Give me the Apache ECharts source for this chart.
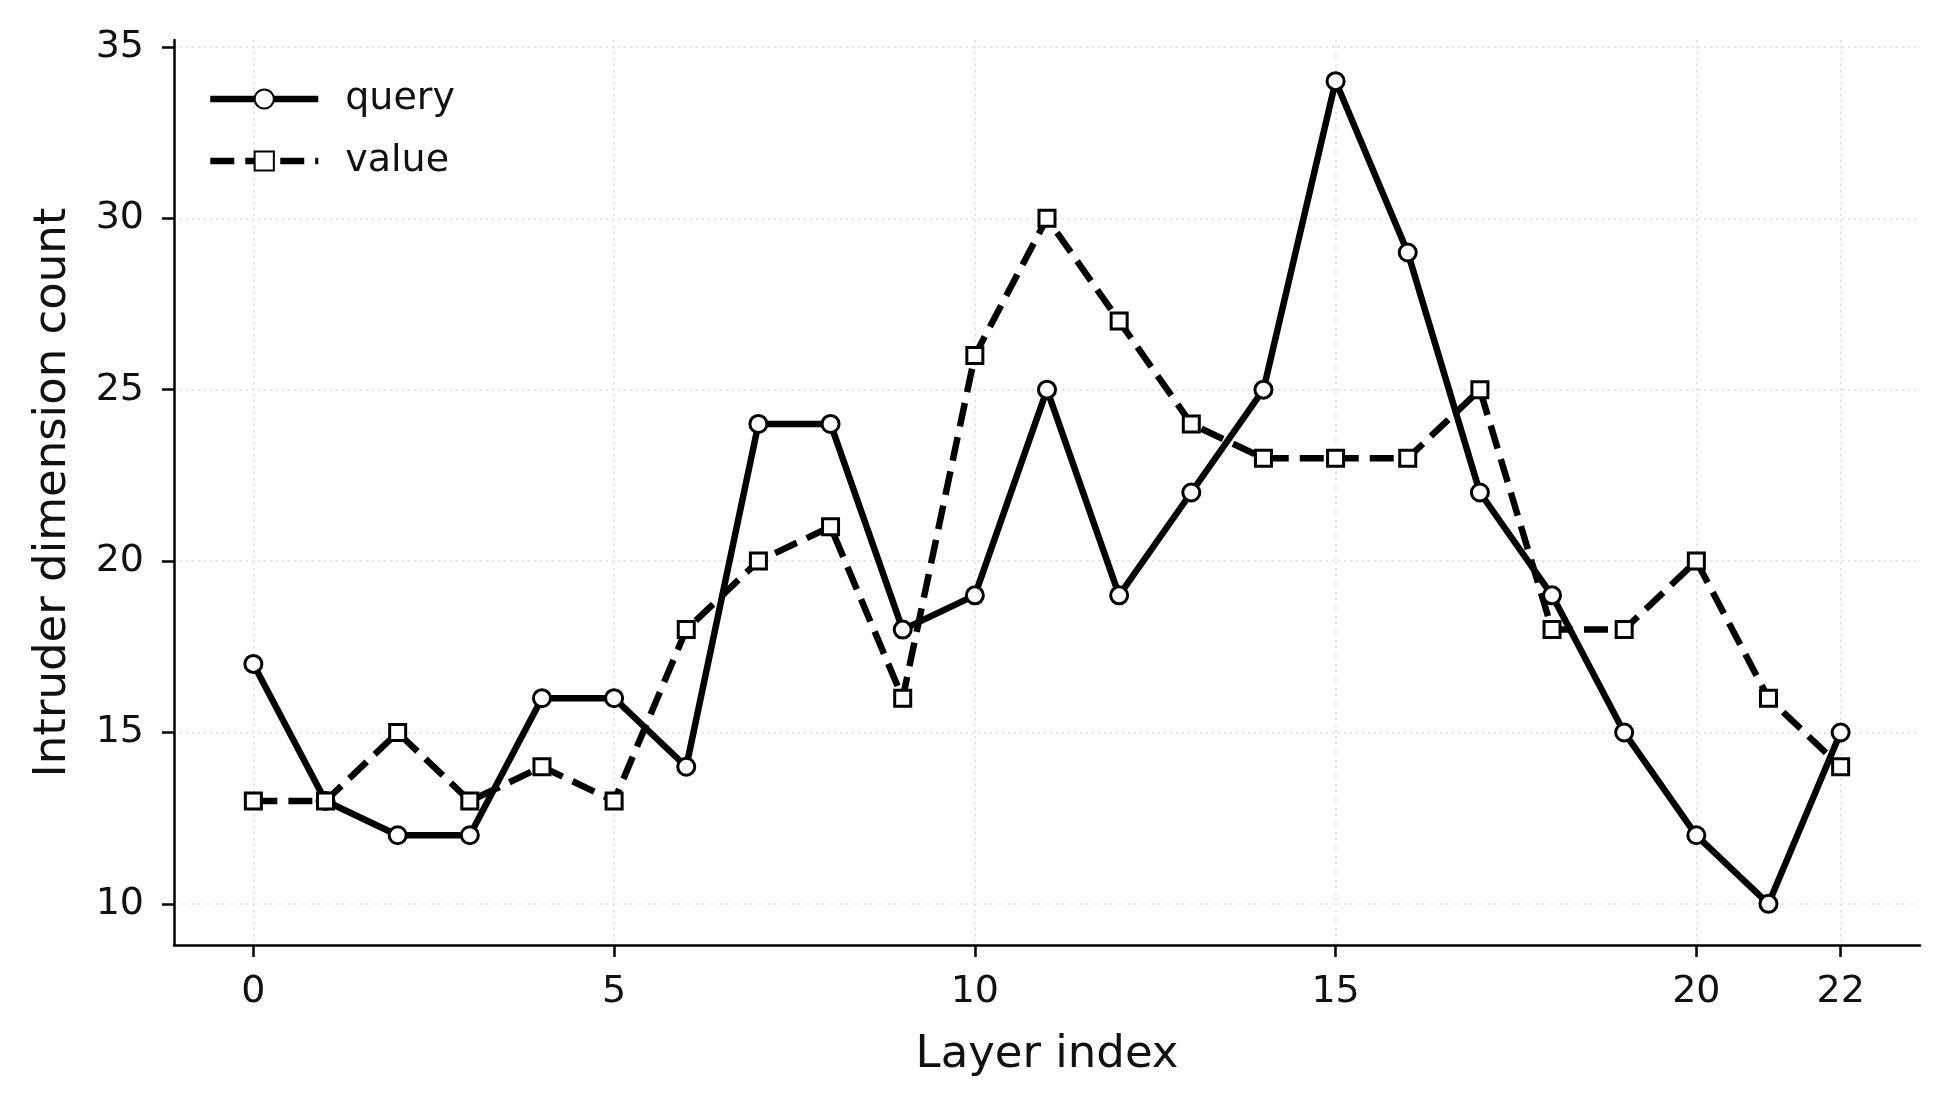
<!DOCTYPE html>
<html>
<head>
<meta charset="utf-8">
<script src="https://cdn.jsdelivr.net/npm/echarts@6/dist/echarts.min.js"></script>
<style>
  html, body { margin: 0; padding: 0; background: #fff; }
  #main { width: 1950px; height: 1109px; }
</style>
</head>
<body>
<div id="main"></div>
<script>
const layers = [0, 1, 2, 3, 4, 5, 6, 7, 8, 9, 10, 11, 12, 13, 14, 15, 16, 17, 18, 19, 20, 21, 22]
const queryCounts = [17, 13, 12, 12, 16, 16, 14, 24, 24, 18, 19, 25, 19, 22, 25, 34, 29, 22, 19, 15, 12, 10, 15]
const valueCounts = [13, 13, 15, 13, 14, 13, 18, 20, 21, 16, 26, 30, 27, 24, 23, 23, 23, 25, 18, 18, 20, 16, 14]
const xTicks = [0, 5, 10, 15, 20, 22]
const yTicks = [10, 15, 20, 25, 30, 35]

const font = 'DejaVu Sans'
const pairs = ys => layers.map((x, i) => [x, ys[i]])

// dotted light grid, on both axes
const gridLine = { show: true, lineStyle: { color: '#dcdcdc', width: 1.5, type: [2, 4] } }

const chart = echarts.init(document.getElementById('main'), null, { renderer: 'canvas' })
chart.setOption({
  animation: false,
  backgroundColor: '#fff',
  grid: { left: 174, right: 30, top: 40, bottom: 164, containLabel: false },
  legend: {
    left: 207,
    top: 79,
    padding: 0,
    orient: 'vertical',
    itemWidth: 108,
    itemHeight: 24,
    itemGap: 22,
    lineStyle: { width: 6.5 },
    textStyle: { fontFamily: font, fontSize: 38, color: '#111', lineHeight: 40, padding: [0, 0, 0, 22] },
    data: ['query', 'value']
  },
  xAxis: {
    type: 'value',
    min: -1.1,
    max: 23.1,
    name: 'Layer index',
    nameLocation: 'middle',
    nameGap: 88,
    nameTextStyle: { fontFamily: font, fontSize: 45, color: '#111' },
    axisLine: { onZero: false, lineStyle: { color: '#000', width: 2.5 } },
    axisTick: { show: true, length: 12, lineStyle: { color: '#000', width: 2.5 }, customValues: xTicks },
    axisLabel: { fontFamily: font, fontSize: 38, color: '#111', margin: 28, customValues: xTicks },
    splitLine: gridLine
  },
  yAxis: {
    type: 'value',
    min: 8.8,
    max: 35.2,
    name: 'Intruder dimension count',
    nameLocation: 'middle',
    nameGap: 98,
    nameTextStyle: { fontFamily: font, fontSize: 45, color: '#111' },
    axisLine: { show: true, onZero: false, lineStyle: { color: '#000', width: 2.5 } },
    axisTick: { show: true, length: 12, lineStyle: { color: '#000', width: 2.5 }, customValues: yTicks },
    axisLabel: { fontFamily: font, fontSize: 38, color: '#111', margin: 30, customValues: yTicks },
    splitLine: gridLine
  },
  series: [
    {
      name: 'query',
      type: 'line',
      data: pairs(queryCounts),
      symbol: 'circle',
      symbolSize: 17,
      lineStyle: { color: '#000', width: 6.5 },
      itemStyle: { color: '#fff', borderColor: '#000', borderWidth: 3 }
    },
    {
      name: 'value',
      type: 'line',
      data: pairs(valueCounts),
      symbol: 'rect',
      symbolSize: 16,
      lineStyle: { color: '#000', width: 6.5, type: [24, 11] },
      itemStyle: { color: '#fff', borderColor: '#000', borderWidth: 3 }
    }
  ]
})
</script>
</body>
</html>
